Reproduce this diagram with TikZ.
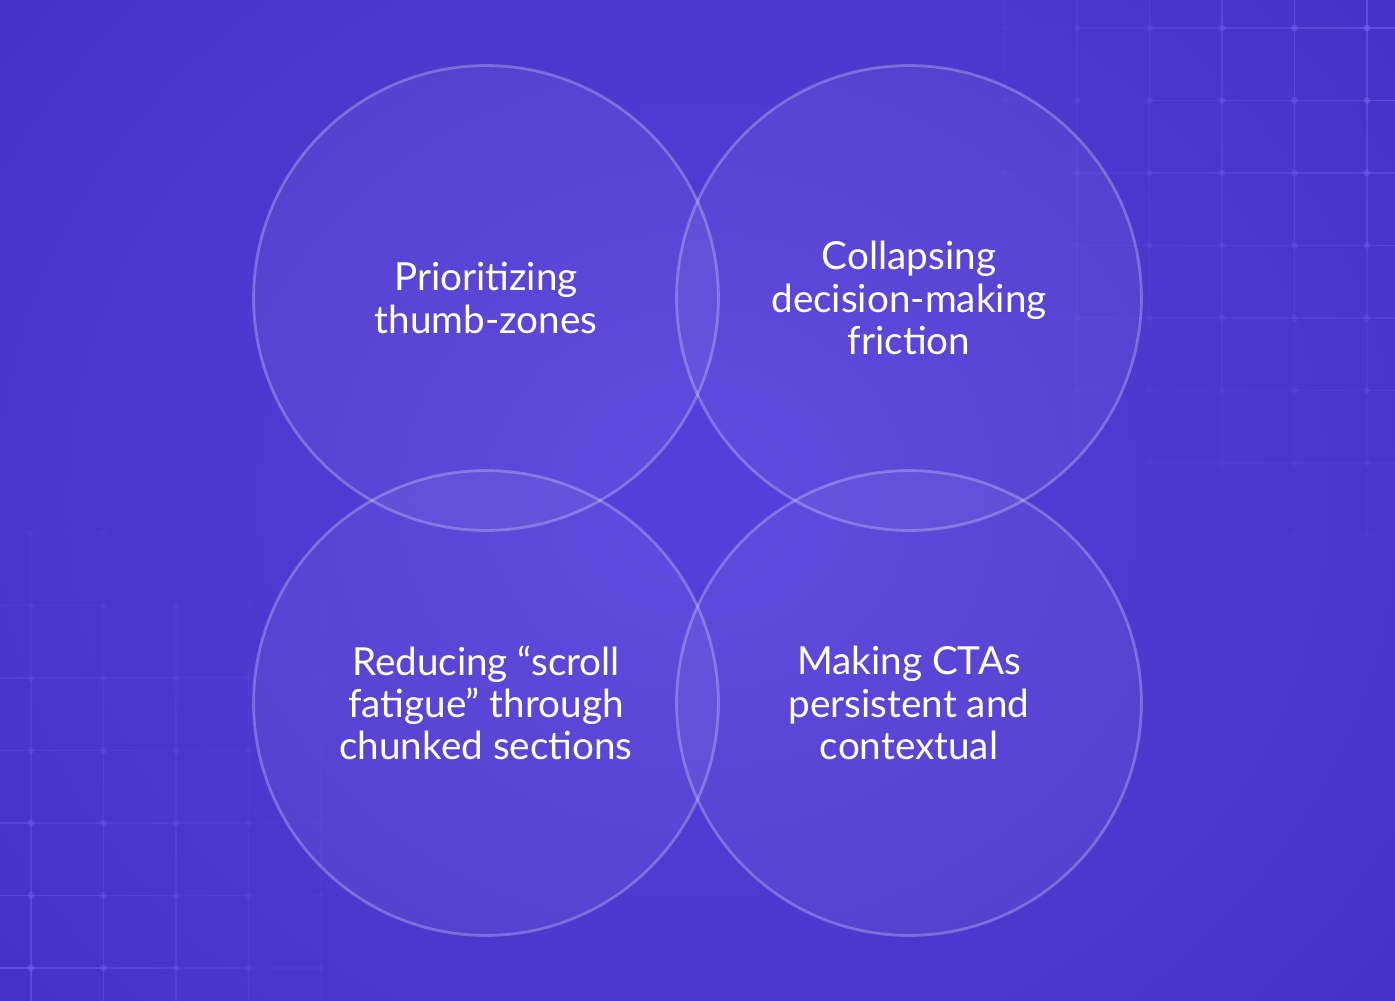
\documentclass[tikz,border=0pt]{standalone}
\usepackage{fontspec}
\setmainfont{Lato}
\definecolor{bgdark}{HTML}{4630C2}
\definecolor{bglight}{HTML}{5540DC}
\definecolor{gridline}{HTML}{7360F0}

\begin{document}
\begin{tikzpicture}
[
    x=0.02cm, y=-0.02cm,
    venn/.style={circle, minimum size=9.3cm, fill=white, fill opacity=0.06,
        draw=white, draw opacity=0.25, line width=1.6pt,
        text opacity=1, text=white, align=center,
        font=\fontsize{22}{24}\selectfont},
    gridseg/.style={gridline, line width=0.6pt}
]
    % background
    \useasboundingbox (0,0) rectangle (1395,1000);
    \clip (0,0) rectangle (1395,1000);
    \fill[bgdark] (0,0) rectangle (1395,1000);
    \shade[inner color=bglight, outer color=bgdark] (-300,-400) rectangle (1695,1400);

    % grid, top right
    \foreach \i in {0,...,5} {
        \foreach \j in {0,...,7} {
            \pgfmathsetmacro{\gx}{1367-72.5*\i}
            \pgfmathsetmacro{\gy}{28+72.5*\j}
            \pgfmathsetmacro{\op}{0.55*(1-\i/6)*(1-\j/8)}
            \draw[gridseg, opacity=\op] (\gx,\gy-72.5) -- (\gx,\gy);
            \draw[gridseg, opacity=\op] (\gx,\gy) -- (\gx+72.5,\gy);
            \fill[gridline, opacity=\op] (\gx,\gy) circle (3.5);
        }
    }

    % grid, bottom left
    \foreach \i in {0,...,4} {
        \foreach \j in {0,...,6} {
            \pgfmathsetmacro{\gx}{31+72.5*\i}
            \pgfmathsetmacro{\gy}{968-72.5*\j}
            \pgfmathsetmacro{\op}{0.5*(1-\i/5)*(1-\j/7)}
            \draw[gridseg, opacity=\op] (\gx,\gy) -- (\gx,\gy+72.5);
            \draw[gridseg, opacity=\op] (\gx-72.5,\gy) -- (\gx,\gy);
            \fill[gridline, opacity=\op] (\gx,\gy) circle (3.5);
        }
    }

    % circles
    \node[venn] (thumb) at (486,298) {Prioritizing\\thumb-zones};
    \node[venn] (friction) at (909,298) {Collapsing\\decision-making\\friction};
    \node[venn] (scroll) at (486,703) {Reducing “scroll\\fatigue” through\\chunked sections};
    \node[venn] (cta) at (909,703) {Making CTAs\\persistent and\\contextual};
\end{tikzpicture}
\end{document}
